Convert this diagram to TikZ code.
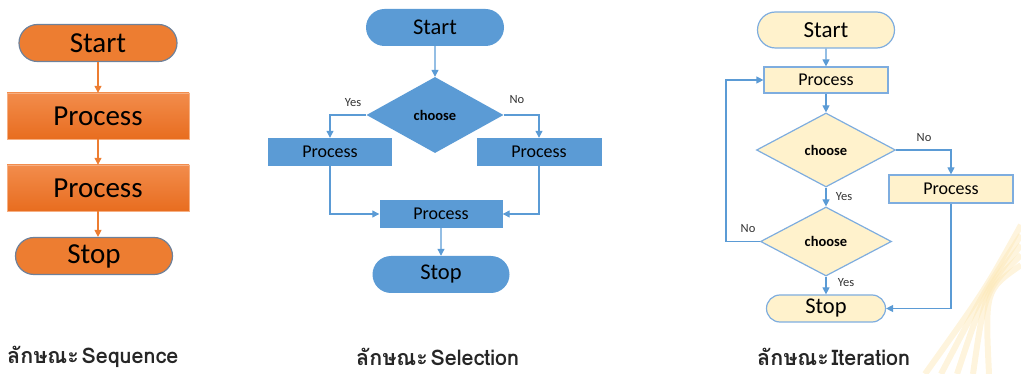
\documentclass[tikz,border=0pt]{standalone}
\usepackage{fontspec}
\setmainfont{Carlito}
\newfontfamily\thaifont[Script=Thai]{Loma}
\usetikzlibrary{shapes.misc,shapes.geometric,arrows.meta}

\definecolor{seqorange}{HTML}{ED7D31}
\definecolor{seqlight}{HTML}{F28C4C}
\definecolor{seqdark}{HTML}{E86D1F}
\definecolor{seqedge}{HTML}{6E819A}
\definecolor{selblue}{HTML}{5B9BD5}
\definecolor{itercream}{HTML}{FFF2CC}
\definecolor{iteredge}{HTML}{7EADDF}
\definecolor{swoosh}{HTML}{FCE7B4}

\tikzset{
  term/.style={rounded rectangle, inner sep=0pt, text=black},
  proc/.style={rectangle, inner sep=0pt, text=black},
  decide/.style={diamond, inner sep=0pt, aspect=1.8, text=black,
    font=\bfseries\fontsize{14.5}{14.5}\selectfont},
  flow/.style={-{Triangle[length=7pt,width=7pt]}, line width=1.2pt},
  tag/.style={inner sep=0pt, text=black!80, font=\fontsize{12.5}{12.5}\selectfont},
  caption/.style={anchor=west, inner sep=0pt, text=black!85,
    font=\thaifont\bfseries\fontsize{21.5}{21.5}\selectfont},
}
% thai word + a narrow gap
\newcommand\kind{ลักษณะ\hspace{0.12em}}

\begin{document}
\begin{tikzpicture}[x=1pt, y=-1pt]
\useasboundingbox (0,0) rectangle (1021,374);

% background swoosh
\foreach \i in {0,...,4}
  \draw[swoosh, line width=6pt, opacity=0.45]
    (1021,225+10*\i) .. controls (985,290) .. (925+16*\i,374);

% Sequence
\begin{scope}[every node/.append style={font=\fontsize{29}{29}\selectfont}]
\node[term, fill=seqorange, draw=seqedge, line width=1.2pt,
  minimum width=158pt, minimum height=37pt] (seqstart) at (98,43) {Start};
\node[proc, top color=seqlight, bottom color=seqdark, draw=seqlight!70!white,
  minimum width=182pt, minimum height=46pt] (seqproca) at (98,116) {Process};
\node[proc, top color=seqlight, bottom color=seqdark, draw=seqlight!70!white,
  minimum width=182pt, minimum height=46pt] (seqprocb) at (98,188) {Process};
\node[term, fill=seqorange, draw=seqedge, line width=1.2pt,
  minimum width=157pt, minimum height=37pt] (seqstop) at (94,256) {Stop};
\end{scope}
\draw[flow, seqorange] (seqstart.south -| seqproca.north) -- (seqproca.north);
\draw[flow, seqorange] (seqproca) -- (seqprocb);
\draw[flow, seqorange] (seqprocb.south) -- (seqprocb.south |- seqstop.north);

% Selection
\begin{scope}[every node/.append style={fill=selblue}]
\node[term, minimum width=138pt, minimum height=37pt,
  font=\fontsize{22.5}{22.5}\selectfont] (selstart) at (435,27.5) {Start};
\node[decide, minimum width=137pt, minimum height=76pt] (selchoose) at (435,115) {choose};
\node[proc, minimum width=124pt, minimum height=28pt,
  font=\fontsize{18}{18}\selectfont] (selyes) at (330,152) {Process};
\node[proc, minimum width=125pt, minimum height=28pt,
  font=\fontsize{18}{18}\selectfont] (selno) at (539,152) {Process};
\node[proc, minimum width=123pt, minimum height=28pt,
  font=\fontsize{18}{18}\selectfont] (seljoin) at (441,214) {Process};
\node[term, minimum width=137pt, minimum height=37pt,
  font=\fontsize{22.5}{22.5}\selectfont] (selstop) at (441,274.5) {Stop};
\end{scope}
\draw[flow, selblue] (selstart) -- (selchoose);
\draw[flow, selblue] (selchoose.west) -| (selyes.north);
\draw[flow, selblue] (selchoose.east) -| (selno.north);
\draw[flow, selblue] (selyes.south) |- (seljoin.west);
\draw[flow, selblue] (selno.south) |- (seljoin.east);
\draw[flow, selblue] (seljoin) -- (selstop);
\node[tag] (selyestag) at (353,103) {Yes};
\node[tag] (selnotag) at (517,100) {No};

% Iteration
\begin{scope}[every node/.append style={fill=itercream, draw=iteredge, line width=1.2pt}]
\node[term, minimum width=137pt, minimum height=36pt,
  font=\fontsize{23}{23}\selectfont] (itstart) at (826,30) {Start};
\node[proc, minimum width=124pt, minimum height=26pt,
  font=\fontsize{18}{18}\selectfont] (itproc) at (826,80) {Process};
\node[decide, minimum width=139pt, minimum height=74pt] (itchoosea) at (826,150) {choose};
\node[proc, minimum width=124pt, minimum height=28pt,
  font=\fontsize{18}{18}\selectfont] (itside) at (951,189) {Process};
\node[decide, minimum width=131pt, minimum height=69pt] (itchooseb) at (826,241.5) {choose};
\node[term, minimum width=119pt, minimum height=27pt,
  font=\fontsize{22.5}{22.5}\selectfont] (itstop) at (826,308.5) {Stop};
\end{scope}
\draw[flow, selblue] (itstart) -- (itproc);
\draw[flow, selblue] (itproc) -- (itchoosea);
\draw[flow, selblue] (itchoosea.east) -| (itside.north);
\draw[flow, selblue] (itchoosea) -- (itchooseb);
\draw[flow, selblue] (itchooseb.west) -- ++(-34,0) |- (itproc.west);
\draw[flow, selblue] (itchooseb) -- (itstop);
\draw[flow, selblue] (itside.south) |- (itstop.east);
\node[tag] (itnotaga) at (924,138) {No};
\node[tag] (ityestaga) at (844,197) {Yes};
\node[tag] (itnotagb) at (748,229) {No};
\node[tag] (ityestagb) at (846,283) {Yes};

% captions
\node[caption] (seqcap) at (7,357) {\kind Sequence};
\node[caption] (selcap) at (356,357) {\kind Selection};
\node[caption] (itcap) at (757,357) {\kind Iteration};
\end{tikzpicture}
\end{document}
